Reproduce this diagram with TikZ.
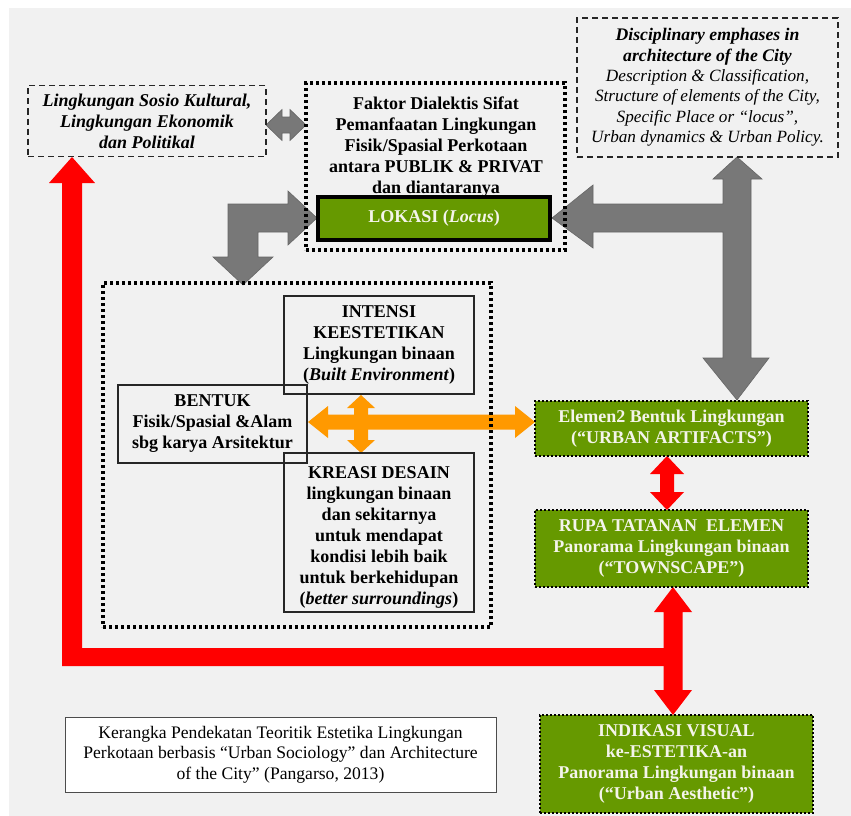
\documentclass[tikz,border=0pt]{standalone}
\usepackage{fontspec}
\setmainfont{Liberation Serif}
\usetikzlibrary{calc}
\definecolor{bg}{HTML}{F1F1F1}
\definecolor{grn}{HTML}{669900}
\definecolor{gry}{HTML}{787878}
\definecolor{org}{HTML}{FF9900}
\definecolor{rd}{HTML}{FF0000}
\definecolor{gtxt}{HTML}{F4F4EA}
\newcommand\myfs{\fontsize{18}{21}\selectfont}
\begin{document}
\begin{tikzpicture}[x=1pt,y=-1pt,
  every node/.style={inner sep=0pt, align=center, font=\myfs},
  sz/.style 2 args={minimum width=#1pt, minimum height=#2pt},
  dashbox/.style={draw=black!85, line width=1.6pt, dash pattern=on 6pt off 4pt},
  dotbox/.style={draw=black, line width=3.5pt, dash pattern=on 3pt off 3pt},
  greenbox/.style={fill=grn, draw=black, line width=2.5pt, dash pattern=on 2pt off 2pt, text=gtxt, font=\myfs\bfseries},
  plainbox/.style={draw=black!85, line width=1.6pt},
  grayarrow/.style={fill=gry, draw=gry!85!black, line width=0.6pt},
  orgarrow/.style={fill=org},
  redarrow/.style={fill=rd}
]
\useasboundingbox (0,0) rectangle (851,816);
\fill[bg] (9,8) rectangle (851,816);

% ---- block arrows ----
\draw[grayarrow] (266,125) -- (282,109.5) -- (282,117) -- (290,117) -- (290,109.5) -- (306,125) -- (290,140.5) -- (290,133) -- (282,133) -- (282,140.5) -- cycle;
\draw[grayarrow] (317,218) -- (288,191) -- (288,204) -- (228,204) -- (228,257) -- (213,257) -- (243,285) -- (273,257) -- (258,257) -- (258,232) -- (288,232) -- (288,245) -- cycle;
\draw[grayarrow] (552,218) -- (593,185) -- (593,204) -- (723,204) -- (723,179) -- (713,179) -- (737,157) -- (762,179) -- (751,179) -- (751,358) -- (769,358) -- (737,400) -- (703,358) -- (723,358) -- (723,232) -- (593,232) -- (593,248) -- cycle;
\fill[orgarrow] (308,422) -- (328,406) -- (328,414.5) -- (515,414.5) -- (515,406) -- (535,422) -- (515,438) -- (515,429.5) -- (328,429.5) -- (328,438) -- cycle;
\fill[orgarrow] (361,395) -- (375,408) -- (368,408) -- (368,440) -- (375,440) -- (361,453) -- (347,440) -- (354,440) -- (354,408) -- (347,408) -- cycle;
\fill[redarrow] (667,456) -- (684,474) -- (674,474) -- (674,492) -- (684,492) -- (667,510) -- (650,492) -- (660,492) -- (660,474) -- (650,474) -- cycle;
\fill[redarrow] (673,587) -- (692,612) -- (682.5,612) -- (682.5,690) -- (692,690) -- (673,715) -- (654,690) -- (663.5,690) -- (663.5,612) -- (654,612) -- cycle;
\fill[redarrow] (72,157) -- (95,183) -- (82,183) -- (82,648) -- (664,648) -- (664,666) -- (62,666) -- (62,183) -- (49,183) -- cycle;

% ---- boxes ----
\node[dashbox, sz={238}{71}, font=\myfs\bfseries\itshape] (sosio) at (147,121) {Lingkungan Sosio Kultural,\\Lingkungan Ekonomik\\dan Politikal};
\node[dotbox, sz={259}{167}] (faktor) at (435.5,166.5) {};
\node[font=\myfs\bfseries] (faktortxt) at (436,147) {Faktor Dialektis Sifat\\Pemanfaatan Lingkungan\\Fisik/Spasial Perkotaan\\antara PUBLIK \& PRIVAT\\dan diantaranya};
\node[draw=black, line width=3.5pt, fill=grn, sz={232}{43}, text=gtxt, font=\myfs\bfseries] (lokasi) at (434,218.5) {LOKASI (\textit{Locus})};
\node[dashbox, sz={261}{139}, font=\fontsize{17.2}{20.4}\selectfont\itshape] (disc) at (707.5,87.5) {{\fontsize{17.7}{20.4}\selectfont\bfseries Disciplinary emphases in}\\{\fontsize{17.7}{20.4}\selectfont\bfseries architecture of the City}\\Description \& Classification,\\Structure of elements of the City,\\Specific Place or “locus”,\\Urban dynamics \& Urban Policy.};
\node[dotbox, sz={388}{344}] (big) at (297,455) {};
\node[plainbox, sz={190}{98}, font=\myfs\bfseries] (intensi) at (379,345) {INTENSI\\KEESTETIKAN\\Lingkungan binaan\\(\textit{Built Environment})};
\node[plainbox, sz={189}{78}, font=\myfs\bfseries] (bentuk) at (212.5,424) {BENTUK\\Fisik/Spasial \&Alam\\sbg karya Arsitektur};
\node[plainbox, sz={190}{159}] (kreasi) at (379,532.5) {};
\node[font=\myfs\bfseries] (kreasitxt) at (379,537) {KREASI DESAIN\\lingkungan binaan\\dan sekitarnya\\untuk mendapat\\kondisi lebih baik\\untuk berkehidupan\\(\textit{better surroundings})};
\node[greenbox, sz={273}{55}] (elemen) at (671.5,428.5) {Elemen2 Bentuk Lingkungan\\(“URBAN ARTIFACTS”)};
\node[greenbox, sz={273}{77}] (rupa) at (671.5,548.5) {RUPA TATANAN\ \ ELEMEN\\Panorama Lingkungan binaan\\(“TOWNSCAPE”)};
\node[greenbox, sz={273}{98}] (indikasi) at (676.5,764) {INDIKASI VISUAL\\ke-ESTETIKA-an\\Panorama Lingkungan binaan\\(“Urban Aesthetic”)};
\node[draw=black!70, line width=1pt, fill=white, sz={431}{75}, font=\fontsize{17.6}{20.5}\selectfont] (caption) at (280.5,754.5) {Kerangka Pendekatan Teoritik Estetika Lingkungan\\Perkotaan berbasis “Urban Sociology” dan Architecture\\of the City” (Pangarso, 2013)};
\end{tikzpicture}
\end{document}
